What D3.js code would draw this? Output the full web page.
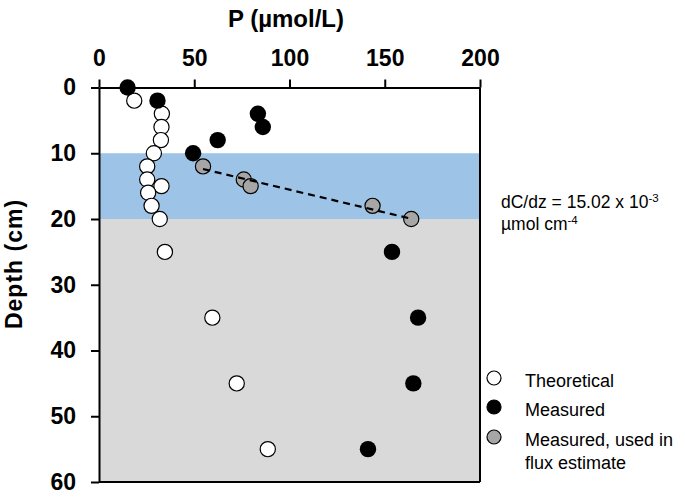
<!DOCTYPE html>
<html><head><meta charset="utf-8">
<script src="https://cdn.jsdelivr.net/npm/d3@7"></script>
<style>
html,body{margin:0;padding:0;background:#fff;}
svg{display:block;font-family:"Liberation Sans",Arial,sans-serif;}
</style></head>
<body><svg id="chart" width="685" height="501"></svg>
<script>
const xTicks = [0, 50, 100, 150, 200];
const yTicks = [0, 10, 20, 30, 40, 50, 60];
const theoDepth = [2, 4, 6, 8, 10, 12, 14, 15, 16, 18, 20, 25, 35, 45, 55];
const theoP = [18.5, 33, 32.8, 32.5, 28.8, 25.3, 25.3, 32.8, 25.8, 27.6, 31.9, 34.6, 59.5, 72.3, 88.6];
const measDepth = [0, 2, 4, 6, 8, 10, 25, 35, 45, 55];
const measP = [15, 30.7, 83.4, 86, 62.3, 49.4, 153.8, 167.5, 165, 141.2];
const fluxDepth = [12, 14, 15, 18, 20];
const fluxP = [54.6, 76, 79.6, 143.6, 163.9];
const fitDepth = [12.4, 19.9];
const fitP = [54.6, 163];
const zoneTop = [10, 20];
const zoneBottom = [20, 60];
const zoneColor = ["#9dc3e6", "#d9d9d9"];
const legendLabels = [["Theoretical"], ["Measured"], ["Measured, used in", "flux estimate"]];
const legendFill = ["#ffffff", "#000000", "#a6a6a6"];

const svg = d3.select("#chart");
const x = d3.scaleLinear().domain([0, 200]).range([99, 480]);
const y = d3.scaleLinear().domain([0, 60]).range([87.5, 482]);

// zones
svg.selectAll("rect.zone").data(zoneTop).join("rect")
  .attr("x", x(0)).attr("width", x(200) - x(0))
  .attr("y", d => y(d)).attr("height", (d, i) => y(zoneBottom[i]) - y(d))
  .attr("fill", (d, i) => zoneColor[i]);

// frame right and bottom
svg.append("line").attr("x1", x(200)).attr("x2", x(200)).attr("y1", y(0)).attr("y2", y(60))
  .attr("stroke", "#000").attr("stroke-width", 2);
svg.append("line").attr("x1", x(0)).attr("x2", x(200)).attr("y1", y(60)).attr("y2", y(60))
  .attr("stroke", "#000").attr("stroke-width", 2);

// axes
const xAxis = svg.append("g").attr("transform", `translate(0,${y(0)})`)
  .call(d3.axisTop(x).tickValues(xTicks).tickSize(8).tickSizeOuter(0).tickPadding(14));
const yAxis = svg.append("g").attr("transform", `translate(${x(0)},0)`)
  .call(d3.axisLeft(y).tickValues(yTicks).tickSize(8).tickSizeOuter(0).tickPadding(15));
[xAxis, yAxis].forEach(g => {
  g.select(".domain").attr("stroke", "#000").attr("stroke-width", 2);
  g.selectAll(".tick line").attr("stroke", "#000").attr("stroke-width", 2);
  g.selectAll(".tick text").attr("font-size", 23).attr("font-weight", "bold")
    .attr("fill", "#000").attr("font-family", "Liberation Sans, Arial, sans-serif");
});

// titles
svg.append("text").attr("x", 286).attr("y", 27).attr("text-anchor", "middle")
  .attr("font-size", 24).attr("font-weight", "bold").text("P (µmol/L)");
svg.append("text").attr("transform", "translate(22,264) rotate(-90)").attr("text-anchor", "middle")
  .attr("font-size", 23).attr("font-weight", "bold").attr("letter-spacing", 1).text("Depth (cm)");

// points
const pt = (p, d) => p.map((v, i) => ({p: v, d: d[i]}));
svg.selectAll("circle.theo").data(pt(theoP, theoDepth)).join("circle")
  .attr("cx", d => x(d.p)).attr("cy", d => y(d.d)).attr("r", 7.6)
  .attr("fill", "#fff").attr("stroke", "#000").attr("stroke-width", 1.2);
svg.selectAll("circle.meas").data(pt(measP, measDepth)).join("circle")
  .attr("cx", d => x(d.p)).attr("cy", d => y(d.d)).attr("r", 8.2)
  .attr("fill", "#000");
svg.selectAll("circle.flux").data(pt(fluxP, fluxDepth)).join("circle")
  .attr("cx", d => x(d.p)).attr("cy", d => y(d.d)).attr("r", 7.6)
  .attr("fill", "#a6a6a6").attr("stroke", "#000").attr("stroke-width", 1.2);

svg.append("path").datum(pt(fitP, fitDepth))
  .attr("d", d3.line().x(d => x(d.p)).y(d => y(d.d)))
  .attr("fill", "none").attr("stroke", "#000").attr("stroke-width", 2.2).attr("stroke-dasharray", "7,5");

// annotation
const ann = svg.append("g").attr("font-size", 17.5).attr("fill", "#000");
const t1 = ann.append("text").attr("x", 501).attr("y", 208);
t1.append("tspan").text("dC/dz = 15.02 x 10");
t1.append("tspan").attr("dy", -6).attr("font-size", 11.5).text("-3");
const t2 = ann.append("text").attr("x", 501).attr("y", 230);
t2.append("tspan").text("µmol cm");
t2.append("tspan").attr("dy", -6).attr("font-size", 11.5).text("-4");

// legend
const legY = [378, 407, 437];
legendLabels.forEach((lab, i) => {
  svg.append("circle").attr("cx", 494).attr("cy", legY[i]).attr("r", 7)
    .attr("fill", legendFill[i]).attr("stroke", "#000").attr("stroke-width", 1.2);
  const t = svg.append("text").attr("x", 525).attr("y", legY[i] + 9).attr("font-size", 18);
  lab.forEach((l, j) => t.append("tspan").attr("x", 525).attr("dy", j ? 23 : 0).text(l));
});
</script></body></html>
